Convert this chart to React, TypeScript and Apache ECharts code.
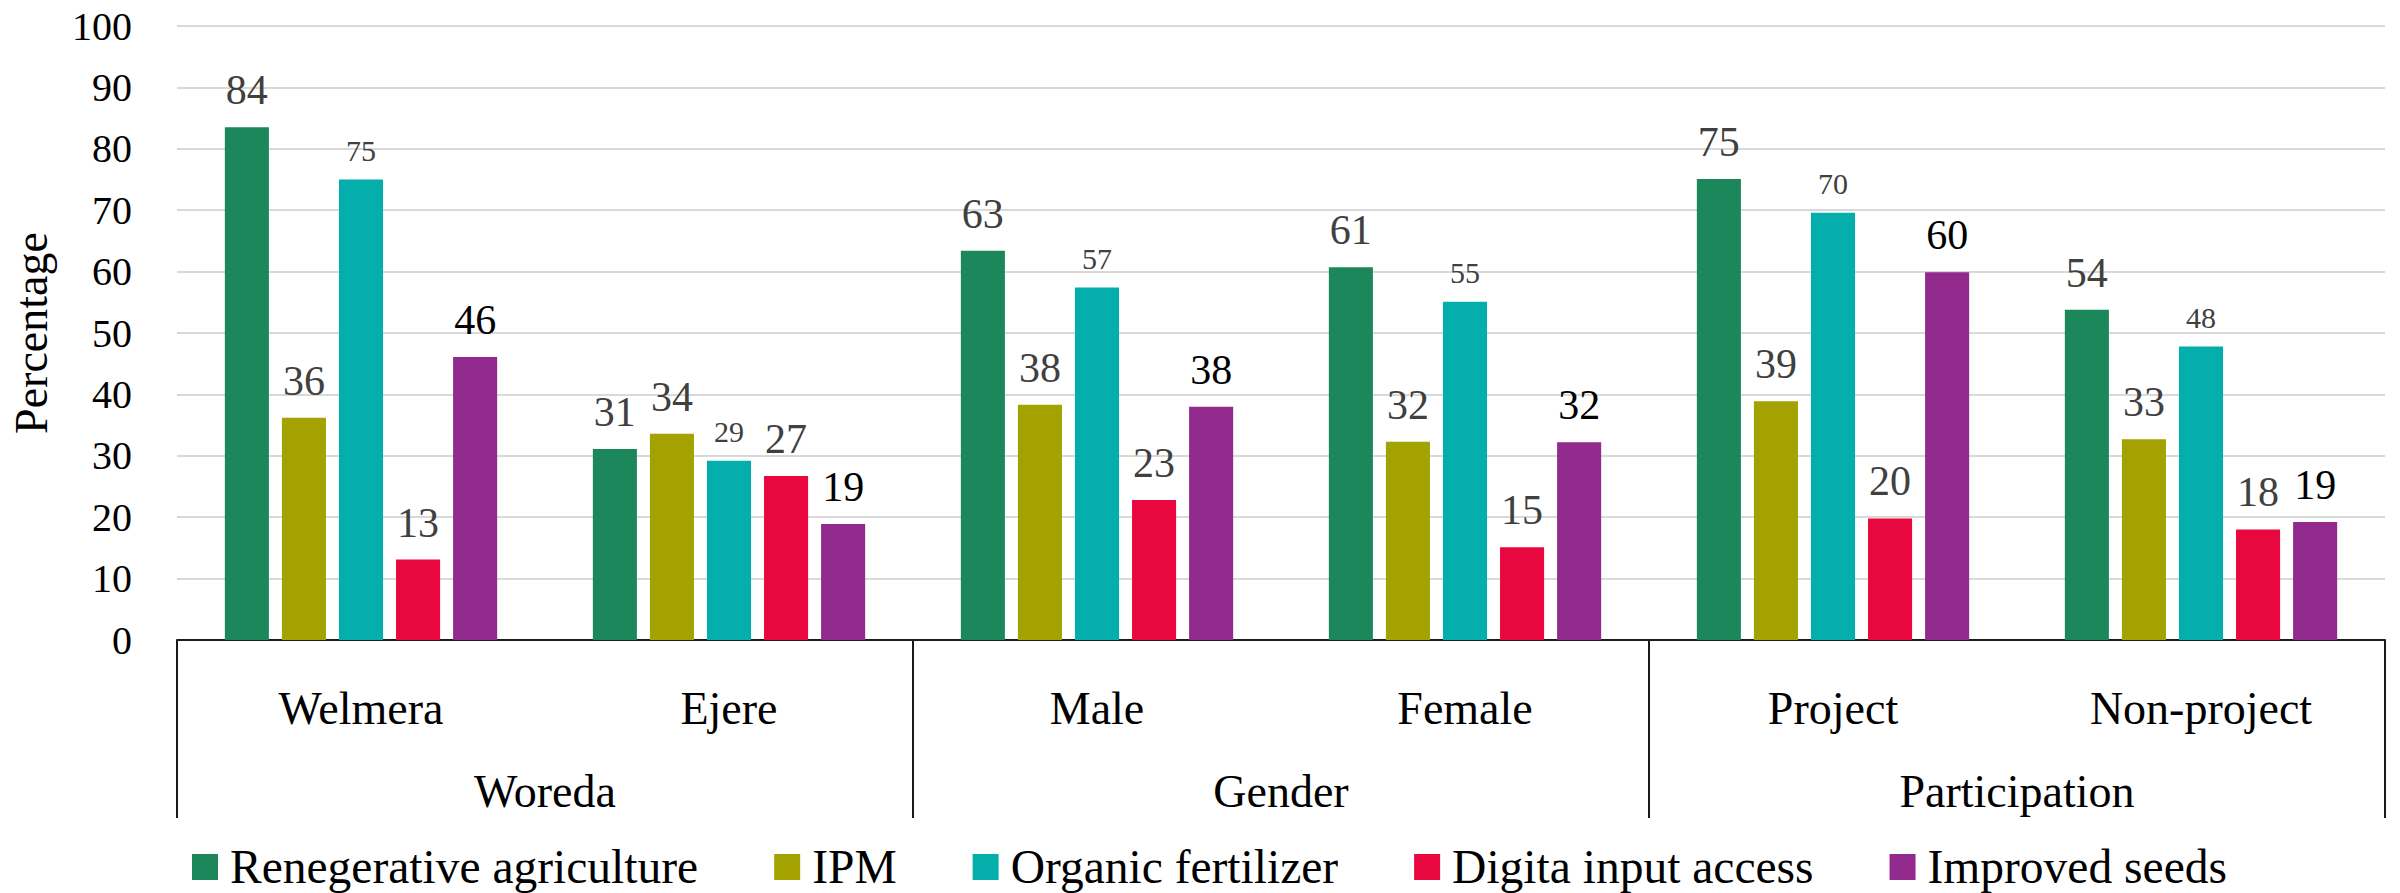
import React, { useEffect, useRef } from 'react';
import * as echarts from 'echarts';

const subCategories = ['Welmera', 'Ejere', 'Male', 'Female', 'Project', 'Non-project'];
const groupCategories = ['Woreda', 'Gender', 'Participation'];
const seriesNames = [
  'Renegerative agriculture',
  'IPM',
  'Organic fertilizer',
  'Digita input access',
  'Improved seeds',
];
const regenerative = [83.5, 31.1, 63.4, 60.7, 75.1, 53.8];
const ipm = [36.2, 33.6, 38.3, 32.3, 38.9, 32.7];
const organicFertilizer = [75.0, 29.2, 57.4, 55.1, 69.6, 47.8];
const digitalInput = [13.1, 26.7, 22.8, 15.1, 19.8, 18.0];
const improvedSeeds = [46.1, 18.9, 38.0, 32.2, 59.9, 19.2];

const yMin = 0;
const yMax = 100;
const yInterval = 10;

const colors = ['#1b875a', '#a4a200', '#04aeaa', '#e9073f', '#92298d'];
const labelColors = ['#404040', '#404040', '#404040', '#404040', '#000000'];
const labelSizes = [42, 42, 30, 42, 42];
const labelDistances = [16, 16, 14, 16, 16];

const FONT = 'Liberation Serif';

export default function App() {
  const ref = useRef<HTMLDivElement>(null);

  useEffect(() => {
    if (!ref.current) return;
    const chart = echarts.init(ref.current, undefined, { renderer: 'svg' });
    const allData = [regenerative, ipm, organicFertilizer, digitalInput, improvedSeeds];

    chart.setOption({
      animation: false,
      backgroundColor: '#ffffff',
      textStyle: { fontFamily: FONT },
      grid: { left: 173, right: 15, top: 26, bottom: 253, containLabel: false },
      legend: {
        data: seriesNames,
        left: 192,
        top: 843,
        padding: 0,
        itemWidth: 26,
        itemHeight: 26,
        itemGap: 76,
        icon: 'rect',
        textStyle: {
          fontFamily: FONT,
          fontSize: 47.5,
          color: '#000000',
          lineHeight: 42,
          padding: [0, 0, 0, 7],
        },
      },
      xAxis: [
        {
          type: 'category',
          data: subCategories,
          position: 'bottom',
          axisLine: { show: true, lineStyle: { color: '#1a1a1a', width: 2 } },
          axisTick: { show: false },
          axisLabel: { margin: 45, fontSize: 46, color: '#000000', fontFamily: FONT },
          splitLine: { show: false },
        },
        {
          type: 'category',
          data: groupCategories,
          position: 'bottom',
          offset: 0,
          axisLine: { show: false },
          axisTick: { show: true, length: 178, lineStyle: { color: '#1a1a1a', width: 2 } },
          axisLabel: { margin: 128, fontSize: 46, color: '#000000', fontFamily: FONT },
          splitLine: { show: false },
        },
      ],
      yAxis: {
        type: 'value',
        min: yMin,
        max: yMax,
        interval: yInterval,
        name: 'Percentage',
        nameLocation: 'middle',
        nameGap: 123,
        nameTextStyle: { fontSize: 46, color: '#000000', fontFamily: FONT },
        axisLine: { show: false },
        axisTick: { show: false },
        axisLabel: { margin: 45, fontSize: 40, color: '#000000', fontFamily: FONT },
        splitLine: { lineStyle: { color: '#d9d9d9', width: 2 } },
      },
      series: seriesNames.map((name, i) => ({
        name,
        type: 'bar',
        xAxisIndex: 0,
        data: allData[i],
        barCategoryGap: '26%',
        barGap: '29.5%',
        itemStyle: { color: colors[i] },
        label: {
          show: true,
          position: 'top',
          distance: labelDistances[i],
          fontSize: labelSizes[i],
          color: labelColors[i],
          fontFamily: FONT,
          formatter: (p: any) => String(Math.round(p.value)),
        },
      })),
    });

    return () => chart.dispose();
  }, []);

  return (
    <div
      ref={ref}
      style={{ position: 'fixed', left: 0, top: 0, width: 2400, height: 893 }}
    />
  );
}
